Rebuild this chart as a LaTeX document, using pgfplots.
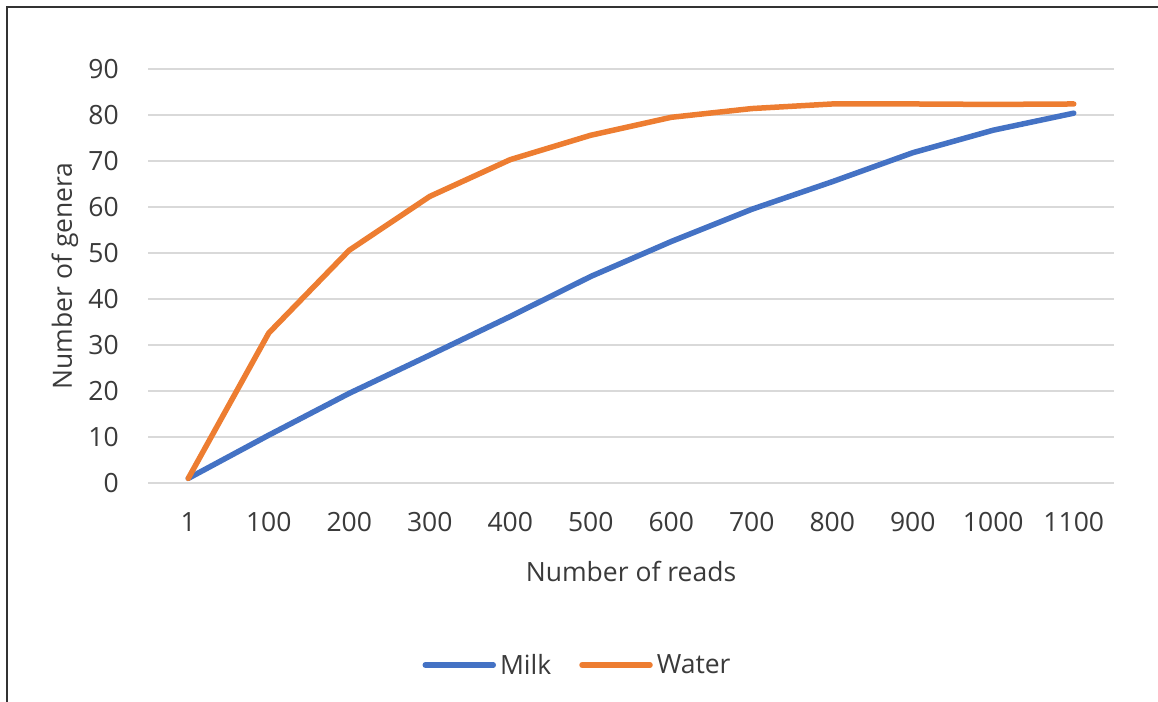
\documentclass[border=0pt]{standalone}
\usepackage{pgfplots}
\pgfplotsset{compat=1.18}
\usepackage{fontspec}
\setmainfont{Open Sans}
\definecolor{milk}{HTML}{4472C4}
\definecolor{water}{HTML}{ED7D31}
\definecolor{gridc}{HTML}{D9D9D9}
\definecolor{txt}{HTML}{3A3A3A}
\definecolor{framec}{HTML}{333333}
\begin{document}
\begin{tikzpicture}[font=\fontsize{26.5bp}{31bp}\selectfont]
\useasboundingbox (0,0) rectangle (1158bp,702bp);
\draw[framec, line width=2bp] (7bp,0) -- (7bp,695bp) -- (1158bp,695bp);
\begin{axis}[
  at={(148bp,219bp)}, anchor=south west,
  scale only axis, width=966bp, height=414bp,
  xmin=-0.5, xmax=11.5, ymin=0, ymax=90,
  xtick={0,...,11},
  xticklabels={1,100,200,300,400,500,600,700,800,900,1000,1100},
  ytick={0,10,...,90},
  /pgf/number format/assume math mode=true,
  axis line style={draw=none},
  major tick length=0pt,
  xmajorgrids=false,
  ymajorgrids=true,
  major grid style={draw=gridc, line width=1.6bp},
  tick label style={text=txt, font=\fontsize{26.5bp}{31bp}\selectfont},
  yticklabel style={anchor=east, inner sep=0pt, xshift=-29bp},
  xticklabel style={anchor=base, inner sep=0pt, yshift=-48bp},
  xlabel={Number of reads},
  ylabel={Number of genera},
  every axis x label/.style={at={(rel axis cs:0.5,0)}, anchor=base, yshift=-98bp, text=txt, font=\fontsize{26.5bp}{31bp}\selectfont},
  every axis y label/.style={at={(rel axis cs:0,0.5)}, rotate=90, anchor=center, yshift=83bp, text=txt, font=\fontsize{26.5bp}{31bp}\selectfont},
  legend columns=2,
  legend style={at={(rel axis cs:0.4457,-0.4396)}, anchor=center, draw=none, fill=none,
    font=\fontsize{26.5bp}{31bp}\selectfont, text=txt,
    /tikz/every even column/.append style={column sep=24bp},
    /tikz/every odd column/.append style={column sep=0bp},
    nodes={inner sep=4bp},
    inner sep=0pt},
  legend image code/.code={\draw[#1, line width=5.5bp, line cap=round] (0bp,0bp) -- (68bp,0bp);},
  legend cell align=left,
]
\addplot[milk, line width=5.5bp, line join=round, line cap=round] coordinates {
(0,1) (1,10.4) (2,19.5) (3,27.8) (4,36.2) (5,44.9) (6,52.5) (7,59.5) (8,65.5) (9,71.8) (10,76.7) (11,80.4)};
\addlegendentry{Milk}
\addplot[water, line width=5.5bp, line join=round, line cap=round] coordinates {
(0,1) (1,32.6) (2,50.6) (3,62.3) (4,70.3) (5,75.6) (6,79.5) (7,81.4) (8,82.4) (9,82.4) (10,82.3) (11,82.4)};
\addlegendentry{Water}
\end{axis}
\end{tikzpicture}
\end{document}
